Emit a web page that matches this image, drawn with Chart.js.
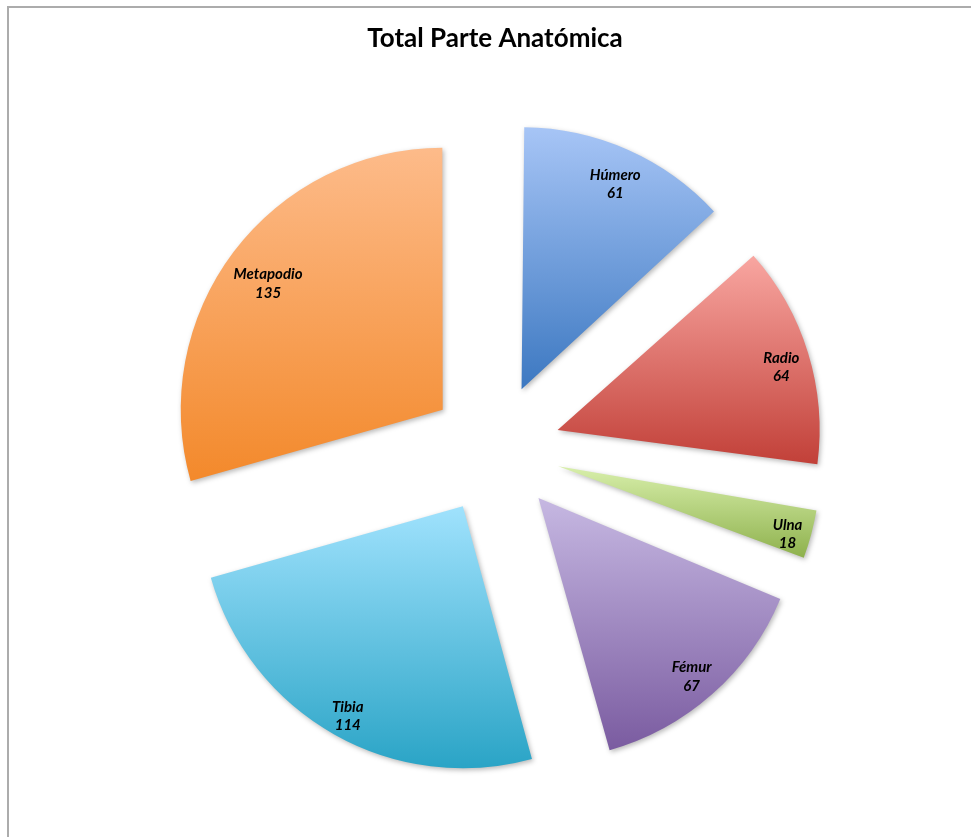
<!DOCTYPE html>
<html>
<head>
<meta charset="utf-8">
<title>Total Parte Anatómica</title>
<script src="https://cdn.jsdelivr.net/npm/chart.js@4.4.1/dist/chart.umd.min.js"></script>
<style>
  html, body { margin: 0; padding: 0; background: #ffffff; overflow: hidden; width: 971px; height: 837px; }
  #frame { position: absolute; left: 7px; top: 6px; width: 1000px; height: 860px;
           border-top: 2px solid #acacac; border-left: 2px solid #acacac; }
  #wrap { position: absolute; left: 9px; top: 8px; width: 972px; height: 829px; }
</style>
</head>
<body>
<div id="frame"></div>
<div id="wrap"><canvas id="pie"></canvas></div>
<script>
// Bone counts by anatomical part
const categories = ['Húmero', 'Radio', 'Ulna', 'Fémur', 'Tibia', 'Metapodio'];
const counts = [61, 64, 18, 67, 114, 135];

// Slice gradient colours (light at the top of each slice, darker at the bottom)
const topColors    = ['#a7c5f6', '#f9a7a2', '#d8efab', '#c6b8e2', '#a0e2fd', '#fdbb8a'];
const bottomColors = ['#3c78c1', '#c13f37', '#88ac45', '#7a5ba0', '#2aa4c6', '#f3892b'];

const PIE_RADIUS = 262;   // px
const EXPLODE = 65.5;     // px each slice is pulled away from the centre

const total = counts.reduce((a, b) => a + b, 0);
const sweep = i => counts[i] / total * Math.PI * 2;
const startAngle = i => {
  let a = -Math.PI / 2;
  for (let j = 0; j < i; j++) a += sweep(j);
  return a;
};

// ArcElement moves each slice out by offset / 4
const sliceOffset = () => 4 * EXPLODE;

// Vertical gradient spanning each slice's own height
function sliceFill(ctx) {
  const i = ctx.dataIndex;
  const chart = ctx.chart;
  const area = chart.chartArea;
  if (ctx.type !== 'data' || !area) return topColors[i || 0];
  const cy = (area.top + area.bottom) / 2;
  const a0 = startAngle(i), a1 = a0 + sweep(i);
  const ys = [0, Math.sin(a0), Math.sin(a1)];
  if (a0 <= Math.PI / 2 && a1 >= Math.PI / 2) ys.push(1);
  if (a0 <= Math.PI * 1.5 && a1 >= Math.PI * 1.5) ys.push(-1);
  const y0 = cy + PIE_RADIUS * Math.min(...ys);
  const y1 = cy + PIE_RADIUS * Math.max(...ys);
  const g = chart.ctx.createLinearGradient(0, y0, 0, y1);
  g.addColorStop(0, topColors[i]);
  g.addColorStop(1, bottomColors[i]);
  return g;
}

const LABEL_FONT = 'italic bold 15px Lato';
const LINE_STEP = 18.5;
const TEXT_DROP = 6;      // Lato sits high on a 'middle' baseline

// Exploded narrow arcs are drawn with an enlarged radius (offset/4 * (1 - sin(sweep)));
// trim them so every slice keeps the same visible radius.
const equalRadius = {
  id: 'equalRadius',
  beforeDatasetsDraw(chart) {
    chart.getDatasetMeta(0).data.forEach(arc => {
      const off = (arc.options.offset || 0) / 4;
      const fix = 1 - Math.sin(Math.min(Math.PI, arc.circumference || 0));
      arc.outerRadius = PIE_RADIUS - off * fix;
    });
  }
};

// Soft drop shadow under the slices, then "name / value" labels near the outer edge
const sliceDecor = {
  id: 'sliceDecor',
  beforeDatasetsDraw(chart) {
    const ctx = chart.ctx;
    ctx.save();
    ctx.shadowColor = 'rgba(0,0,0,0.28)';
    ctx.shadowBlur = 5;
    ctx.shadowOffsetX = 1.5;
    ctx.shadowOffsetY = 2;
  },
  afterDatasetsDraw(chart) {
    const ctx = chart.ctx;
    ctx.restore();
    const meta = chart.getDatasetMeta(0);
    const values = chart.data.datasets[0].data;
    ctx.save();
    ctx.font = LABEL_FONT;
    ctx.fillStyle = '#000000';
    ctx.textAlign = 'center';
    ctx.textBaseline = 'middle';
    meta.data.forEach((arc, i) => {
      const p = arc.getProps(['x', 'y', 'startAngle', 'endAngle'], true);
      const mid = (p.startAngle + p.endAngle) / 2;
      const name = chart.data.labels[i];
      const val = String(values[i]);
      const w = Math.max(ctx.measureText(name).width, ctx.measureText(val).width);
      const h = 32;
      const ext = Math.abs(Math.cos(mid)) * w / 2 + Math.abs(Math.sin(mid)) * h / 2;
      const d = EXPLODE + PIE_RADIUS - ext - 6;
      const lx = p.x + Math.cos(mid) * d;
      const ly = p.y + Math.sin(mid) * d + TEXT_DROP;
      ctx.fillText(name, lx, ly - LINE_STEP / 2);
      ctx.fillText(val, lx, ly + LINE_STEP / 2);
    });
    ctx.restore();
  }
};

function draw() {
  new Chart(document.getElementById('pie'), {
    type: 'pie',
    data: {
      labels: categories,
      datasets: [{
        data: counts,
        backgroundColor: sliceFill,
        borderWidth: 0,
        offset: sliceOffset,
        hoverOffset: 0,
        radius: PIE_RADIUS
      }]
    },
    options: {
      responsive: true,
      maintainAspectRatio: false,
      animation: false,
      events: [],
      layout: { padding: 0 },
      plugins: {
        legend: { display: false },
        tooltip: { enabled: false },
        title: {
          display: true,
          text: 'Total Parte Anatómica',
          color: '#000000',
          font: { family: 'Lato', size: 26, weight: 'bold' },
          padding: { top: 15, bottom: 7 }
        }
      }
    },
    plugins: [equalRadius, sliceDecor]
  });
}

Promise.all([
  document.fonts.load('bold 26px Lato'),
  document.fonts.load(LABEL_FONT)
]).then(draw, draw);
</script>
</body>
</html>
